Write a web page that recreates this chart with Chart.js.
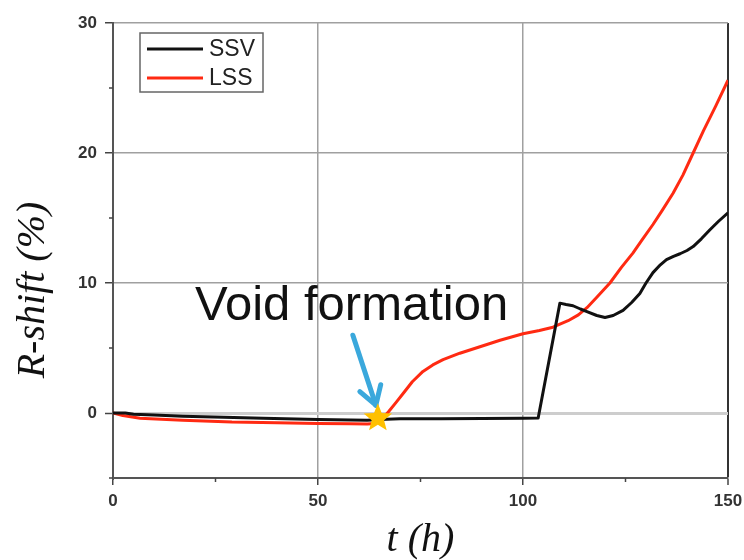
<!DOCTYPE html>
<html lang="en">
<head>
  <meta charset="UTF-8" />
  <title>R-shift vs t</title>
  <script src="https://cdn.jsdelivr.net/npm/chart.js@4.4.0/dist/chart.umd.min.js"></script>
  <style>
    html, body { margin: 0; padding: 0; background: #fff; }
    #wrap { width: 744px; height: 560px; }
  </style>
</head>
<body>
  <div id="wrap"><canvas id="myChart" width="744" height="560"></canvas></div>

  <script>
    // values
    const ssvT = [0, 3, 5, 10, 17, 27, 36.6, 50, 62, 65, 70, 75, 80, 90, 100, 103.7, 109, 110.5, 112.2, 114, 115.6, 118, 120, 122, 124.4, 126.5, 128.5, 130, 131.7, 133.5, 135, 136.7, 138.3, 140, 141.5, 143.5, 145.6, 147.7, 150];
    const ssvR = [0, 0, -0.1, -0.15, -0.25, -0.33, -0.4, -0.5, -0.55, -0.5, -0.45, -0.45, -0.45, -0.42, -0.4, -0.38, 8.45, 8.35, 8.25, 8.0, 7.8, 7.5, 7.35, 7.5, 7.9, 8.5, 9.2, 10.0, 10.8, 11.4, 11.8, 12.05, 12.25, 12.5, 12.8, 13.4, 14.1, 14.75, 15.4];

    const lssT = [0, 2.4, 6.6, 17, 29, 40, 50, 58, 62, 64, 65.5, 67.2, 69, 71, 73, 75.6, 78, 80.5, 84.6, 89.5, 94.4, 100, 104, 107.3, 111, 113.5, 115.6, 118, 121.2, 124, 126.8, 129, 131.7, 134, 136.6, 139, 141.5, 144, 147, 150];
    const lssR = [0, -0.2, -0.4, -0.55, -0.7, -0.75, -0.8, -0.82, -0.85, -0.8, -0.5, 0.1, 0.8, 1.6, 2.4, 3.2, 3.7, 4.1, 4.6, 5.1, 5.6, 6.1, 6.35, 6.6, 7.1, 7.55, 8.1, 8.9, 10.0, 11.2, 12.3, 13.3, 14.5, 15.6, 16.9, 18.3, 20.0, 21.7, 23.6, 25.6];

    const seriesNames = ['SSV', 'LSS'];
    const seriesColors = ['#111111', '#ff2a12'];
    const xTicks = [0, 50, 100, 150];
    const yTicks = [0, 10, 20, 30];
    const xTitle = 't (h)';
    const yTitle = 'R-shift (%)';
    const voidPoint = { t: 64.6, r: -0.4 };
    const noteLabel = 'Void formation';

    const toPoints = (ts, rs) => ts.map((t, i) => ({ x: t, y: rs[i] }));

    const tickFont = { family: '"Liberation Sans", Arial, sans-serif', size: 17, weight: 'bold' };

    // legend, minor ticks, y title and the void-formation note
    const decorations = {
      id: 'decorations',
      afterDatasetsDraw(chart) {
        const { ctx, chartArea: a, scales: { x, y } } = chart;
        ctx.save();

        // minor ticks halfway between the major ones
        const minors = (s) => {
          const t = s.ticks.map(k => k.value);
          const h = (t[1] - t[0]) / 2;
          return t.map(v => v - h).filter(v => v >= s.min);
        };
        ctx.strokeStyle = '#444';
        ctx.lineWidth = 1.5;
        minors(x).forEach(v => {
          const px = x.getPixelForValue(v);
          ctx.beginPath(); ctx.moveTo(px, a.bottom); ctx.lineTo(px, a.bottom + 4); ctx.stroke();
        });
        minors(y).forEach(v => {
          const py = y.getPixelForValue(v);
          ctx.beginPath(); ctx.moveTo(a.left, py); ctx.lineTo(a.left - 4, py); ctx.stroke();
        });

        // note text
        ctx.fillStyle = '#111';
        ctx.font = '49px "Liberation Sans", Arial, sans-serif';
        ctx.textAlign = 'left';
        ctx.textBaseline = 'alphabetic';
        ctx.fillText(noteLabel, x.getPixelForValue(20), y.getPixelForValue(7.15));

        // arrow down to the star
        const sx = x.getPixelForValue(voidPoint.t);
        const sy = y.getPixelForValue(voidPoint.r);
        const tipX = sx - 2, tipY = sy - 13;
        const tailX = sx - 25, tailY = sy - 83;
        const ang = Math.atan2(tipY - tailY, tipX - tailX);
        ctx.strokeStyle = '#3aa8dc';
        ctx.lineWidth = 5;
        ctx.lineCap = 'round';
        ctx.beginPath(); ctx.moveTo(tailX, tailY); ctx.lineTo(tipX, tipY); ctx.stroke();
        [0.55, -0.55].forEach(d => {
          ctx.beginPath();
          ctx.moveTo(tipX, tipY);
          ctx.lineTo(tipX - 21 * Math.cos(ang + d), tipY - 21 * Math.sin(ang + d));
          ctx.stroke();
        });

        // star
        ctx.fillStyle = '#ffc000';
        ctx.beginPath();
        for (let i = 0; i < 10; i++) {
          const r = i % 2 === 0 ? 15 : 6.5;
          const th = -Math.PI / 2 + i * Math.PI / 5;
          const px = sx + r * Math.cos(th), py = sy + r * Math.sin(th);
          if (i === 0) ctx.moveTo(px, py); else ctx.lineTo(px, py);
        }
        ctx.closePath();
        ctx.fill();

        // legend box
        const bx = a.left + 27, by = a.top + 10, bw = 123, bh = 59;
        ctx.fillStyle = '#fff';
        ctx.fillRect(bx, by, bw, bh);
        ctx.strokeStyle = '#666';
        ctx.lineWidth = 1.5;
        ctx.strokeRect(bx, by, bw, bh);
        ctx.font = '23px "Liberation Sans", Arial, sans-serif';
        ctx.textBaseline = 'middle';
        ctx.lineCap = 'butt';
        chart.data.datasets.forEach((ds, i) => {
          const ly = by + 16 + i * 29;
          ctx.strokeStyle = ds.borderColor;
          ctx.lineWidth = 3;
          ctx.beginPath(); ctx.moveTo(bx + 7, ly); ctx.lineTo(bx + 63, ly); ctx.stroke();
          ctx.fillStyle = '#222';
          ctx.fillText(ds.label, bx + 69, ly + 1);
        });

        // y axis title
        ctx.translate(33, a.top + 267);
        ctx.rotate(-Math.PI / 2);
        ctx.font = 'italic 40px "Liberation Serif", "Times New Roman", serif';
        ctx.fillStyle = '#111';
        ctx.textAlign = 'center';
        ctx.fillText(yTitle, 0, 0);

        ctx.restore();
      }
    };

    new Chart(document.getElementById('myChart').getContext('2d'), {
      type: 'line',
      data: {
        datasets: [
          { label: seriesNames[0], data: toPoints(ssvT, ssvR), borderColor: seriesColors[0], borderWidth: 3, pointRadius: 0, tension: 0, borderJoinStyle: 'round' },
          { label: seriesNames[1], data: toPoints(lssT, lssR), borderColor: seriesColors[1], borderWidth: 3, pointRadius: 0, tension: 0, borderJoinStyle: 'round' }
        ]
      },
      options: {
        responsive: false,
        animation: false,
        devicePixelRatio: 1,
        layout: { padding: { left: 0, right: 16, top: 23, bottom: 0 } },
        plugins: { legend: { display: false }, tooltip: { enabled: false } },
        scales: {
          x: {
            type: 'linear',
            min: 0,
            max: 150,
            afterBuildTicks: s => { s.ticks = xTicks.map(v => ({ value: v })); },
            afterFit: s => { s.height = 82; s.paddingLeft = 0; s.paddingRight = 0; },
            ticks: { font: tickFont, color: '#333', padding: 6 },
            grid: {
              color: c => (c.tick && c.tick.value === 150 ? '#333' : '#a0a0a0'),
              lineWidth: c => (c.tick && c.tick.value === 150 ? 2 : 1.5),
              tickLength: 7,
              tickColor: '#444',
              tickWidth: 1.5
            },
            border: { color: '#555', width: 2 },
            title: {
              display: true,
              text: xTitle,
              font: { family: '"Liberation Serif", "Times New Roman", serif', size: 40, style: 'italic', lineHeight: 1 },
              color: '#111',
              padding: 0
            }
          },
          y: {
            type: 'linear',
            min: -5,
            max: 30,
            afterBuildTicks: s => { s.ticks = yTicks.map(v => ({ value: v })); },
            afterFit: s => { s.width = 113; },
            ticks: { font: tickFont, color: '#333', padding: 8 },
            grid: {
              color: c => (c.tick && c.tick.value === 0 ? '#cdcdcd' : '#a0a0a0'),
              lineWidth: c => (c.tick && c.tick.value === 0 ? 3 : 1.5),
              tickLength: 8,
              tickColor: '#444',
              tickWidth: 1.5
            },
            border: { color: '#555', width: 2 }
          }
        }
      },
      plugins: [decorations]
    });
  </script>
</body>
</html>
